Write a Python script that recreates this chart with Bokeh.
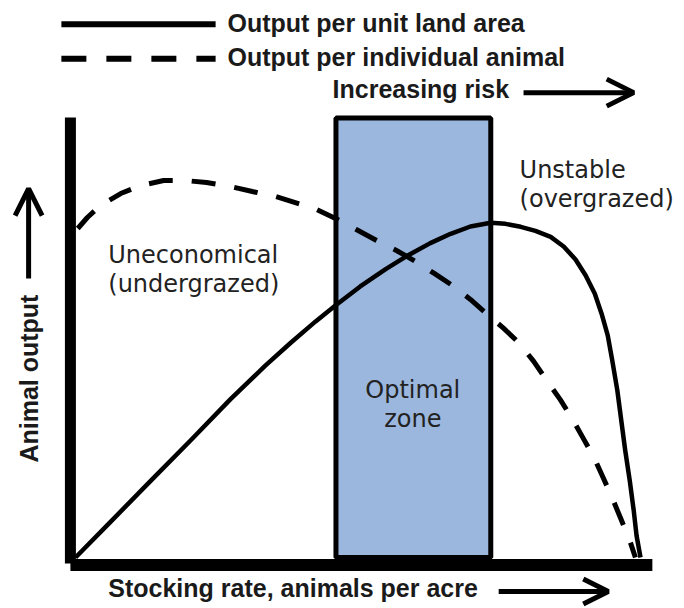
from bokeh.plotting import figure
from bokeh.models import Range1d, Arrow, OpenHead
from bokeh.core.properties import value
from bokeh.embed import file_html
from bokeh.resources import INLINE

# ---- data (stocking rate, animal output in arbitrary units) ----
land_x = [0.0, 6.2, 13.3, 20.4, 27.4, 33.6, 38.1, 42.5, 46.0, 50.4, 54.9, 58.4, 62.8,
          66.4, 69.9, 73.5, 76.1, 78.8, 81.4, 84.1, 86.4, 88.5, 90.3, 91.9, 93.1, 94.2,
          95.0, 95.9, 96.6, 97.3, 98.1, 98.8, 99.3, 100.0]
land_y = [0.0, 10.7, 23.0, 35.2, 47.5, 57.6, 64.5, 70.9, 75.7, 81.4, 86.6, 90.3, 94.4,
          97.2, 99.4, 100.5, 100.2, 99.3, 98.1, 96.3, 93.4, 89.5, 84.7, 79.3, 73.3, 66.7,
          59.2, 50.2, 41.1, 32.1, 23.1, 14.1, 6.6, 0.0]

animal_x = [0.4, 2.1, 4.4, 8.0, 11.5, 15.6, 19.5, 23.2, 27.4, 31.3, 35.4, 38.9, 42.7,
            46.4, 49.7, 53.3, 56.8, 60.2, 63.5, 66.7, 69.9, 73.1, 75.8, 78.4, 81.1, 83.5,
            85.8, 87.8, 89.7, 91.7, 93.3, 94.9, 96.5, 98.1, 99.1]
animal_y = [98.8, 102.1, 105.7, 109.3, 111.7, 113.2, 113.2, 112.6, 111.4, 109.9, 108.4,
            106.6, 104.5, 101.5, 98.5, 95.2, 92.2, 88.9, 85.3, 81.7, 77.5, 72.7, 68.8,
            64.6, 58.9, 52.9, 47.4, 42.0, 36.3, 30.3, 24.3, 18.3, 11.7, 5.1, 0.0]

optimal_zone = [46.1, 73.5]      # stocking-rate bounds of the optimal zone

legend_labels = ["Output per unit land area", "Output per individual animal"]
x_label = "Stocking rate, animals per acre"
y_label = "Animal output"
risk_label = "Increasing risk"
zone_labels = {"under": ["Uneconomical", "(undergrazed)"],
               "over": ["Unstable", "(overgrazed)"],
               "opt": ["Optimal", "zone"]}

# ---- figure ----
p = figure(width=684, height=608, output_backend="svg", toolbar_location=None,
           x_range=Range1d(-13.274, 107.788), y_range=Range1d(-15.315, 167.267),
           min_border=0)
p.xaxis.visible = False
p.yaxis.visible = False
p.grid.visible = False
p.outline_line_color = None
p.background_fill_color = "white"
p.border_fill_color = "white"

BLACK = "#000000"
TXT = "#1a1a1a"

# optimal zone
p.quad(left=[optimal_zone[0]], right=[optimal_zone[1]], bottom=[0], top=[132.0],
       fill_color="#9bb7de", line_color=BLACK, line_width=5)

# curves
p.line(land_x, land_y, line_color=BLACK, line_width=4.5, line_join="round")
p.line(animal_x, animal_y, line_color=BLACK, line_width=5, line_dash="24 19")

# axes as thick bars
p.segment(x0=[-0.9], y0=[132.1], x1=[-0.9], y1=[-1.8], line_color=BLACK, line_width=11)
p.segment(x0=[-0.9], y0=[-2.25], x1=[102.1], y1=[-2.25], line_color=BLACK, line_width=12)

# legend
p.segment(x0=[-2.5], y0=[160.1], x1=[24.8], y1=[160.1], line_color=BLACK, line_width=6)
p.segment(x0=[-2.5], y0=[149.8], x1=[24.8], y1=[149.8], line_color=BLACK, line_width=6,
          line_dash="25 20")

bold = dict(text_font=value("Liberation Sans"), text_font_style="bold",
            text_font_size="25px", text_color=TXT, text_baseline="alphabetic")
p.text(x=[26.9, 26.9], y=[160.55, 150.25], text=legend_labels, text_align="left", **bold)
p.text(x=[45.5], y=[140.65], text=[risk_label], text_align="left", **bold)
p.text(x=[5.8], y=[-9.15], text=[x_label], text_align="left", **bold)
p.text(x=[-8.3], y=[28.5], text=[y_label], text_align="left", angle=1.5708, **bold)

reg = dict(text_font=value("DejaVu Sans"), text_font_size="24px", text_color="#222222",
           text_baseline="alphabetic")
p.text(x=[5.8, 5.8], y=[90.85, 82.15], text=zone_labels["under"], text_align="left", **reg)
p.text(x=[78.6, 78.6], y=[116.35, 107.65], text=zone_labels["over"], text_align="left", **reg)
p.text(x=[59.7, 59.7], y=[50.25, 41.55], text=zone_labels["opt"], text_align="center", **reg)

# arrows
def arrow(x0, y0, x1, y1, size):
    p.add_layout(Arrow(end=OpenHead(size=size, line_width=5, line_color=BLACK),
                       x_start=x0, y_start=y0, x_end=x1, y_end=y1,
                       line_width=5, line_color=BLACK))

arrow(79.3, 139.6, 98.8, 139.6, 27)
arrow(74.9, -10.2, 94.3, -10.2, 25)
arrow(-8.3, 83.8, -8.3, 110.8, 27)

open("out.html", "w").write(file_html(p, INLINE))
